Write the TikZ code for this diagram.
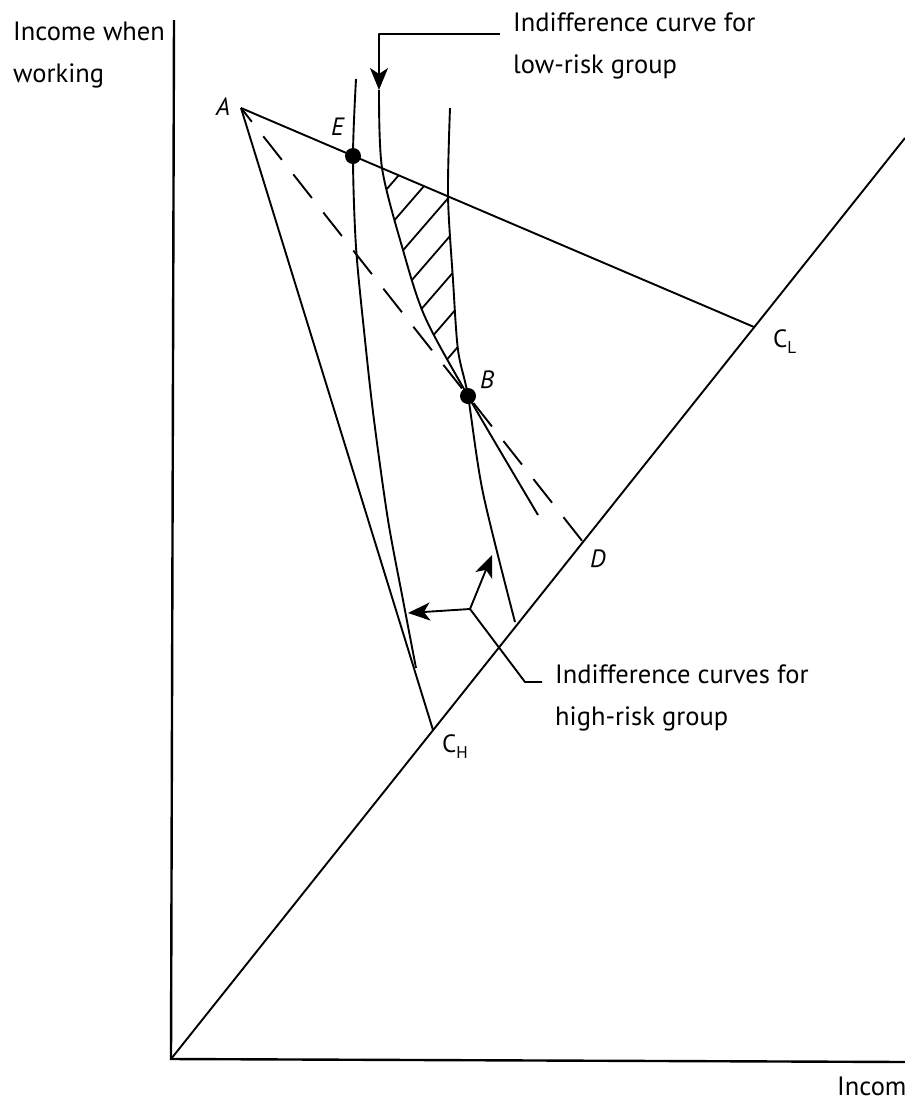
\documentclass[tikz,border=0pt]{standalone}
\usepackage{fontspec}
\setmainfont{PT Sans}
\usetikzlibrary{arrows.meta}
\begin{document}
\begin{tikzpicture}[x=1pt,y=-1pt,
  ln/.style={line width=1.9pt, line join=round},
  ax/.style={line width=2.4pt},
  dsh/.style={line width=1.9pt, dash pattern=on 30pt off 18.5pt, dash phase=12.5pt},
  lab/.style={font=\fontsize{25}{25}\selectfont\itshape, inner sep=0pt, anchor=base west},
  clab/.style={font=\fontsize{25}{25}\selectfont, inner sep=0pt, anchor=base west},
  txt/.style={font=\fontsize{26.5}{42}\selectfont, inner sep=0pt, anchor=north west, align=left},
  tip/.style={-{Stealth[length=22pt,width=18pt,inset=6pt]}},
  dot/.style={circle, fill=black, minimum size=16pt, inner sep=0pt}]
\useasboundingbox (0,0) rectangle (905,1104);
\clip (0,0) rectangle (905,1104);

% key points
\coordinate (O) at (171,1059);
\coordinate (Ytop) at (174,20);
\coordinate (Xend) at (905,1062);
\coordinate (Tend) at (905,138);
\coordinate (A) at (241,108);
\coordinate (CL) at (754,327);
\coordinate (CH) at (433,730);
\coordinate (D) at (583,542);
\coordinate (J) at (470,609);

% axes and certainty line
\draw[ax] (Ytop) -- (O) -- (Xend);
\draw[ln] (O) -- (Tend);

% budget lines
\draw[ln] (A) -- (CL);
\draw[ln] (A) -- (CH);
\draw[dsh] (A) -- (D);

% hatched region
\begin{scope}
\clip plot[smooth] coordinates {(382,168) (403,250) (425,317) (468,396)}
  -- plot[smooth] coordinates {(468,396) (458,350) (453,280) (448,196)} -- cycle;
\foreach \k in {0,...,6}
  \draw[line width=1.8pt] (350,{116+40*\k+115.6}) -- ++(200,-231.2);
\end{scope}

% indifference curves
\draw[ln] plot[smooth] coordinates {(356,79) (353,156) (356,247) (365,340) (374,420) (388,520) (403,600) (416,668)};
\draw[ln] plot[smooth] coordinates {(379,90) (382,168) (403,250) (425,317) (468,396) (538,515)};
\draw[ln] plot[smooth] coordinates {(450,108) (448,196) (453,280) (458,350) (468,396) (483,493) (515,622)};

% dots
\node[dot] (E) at (353,156) {};
\node[dot] (B) at (468,396) {};

% labels
\node[lab] (Alab) at (216,115) {A};
\node[lab] (Elab) at (331,135) {E};
\node[lab] (Blab) at (480,388) {B};
\node[lab] (Dlab) at (590,567) {D};
\node[clab] (CLlab) at (773,347) {C\raisebox{-6pt}{\fontsize{17}{17}\selectfont L}};
\node[clab] (CHlab) at (442,752) {C\raisebox{-6pt}{\fontsize{17}{17}\selectfont H}};

% texts
\node[txt] (ylab) at (13,22) {Income when\\working};
\node[txt] (lowtxt) at (513,13) {Indifference curve for\\low-risk group};
\node[txt] (hightxt) at (555,665) {Indifference curves for\\high-risk group};
\node[txt] (xlab) at (837,1077) {Income};

% low-risk pointer
\coordinate (lk) at (500,34);
\coordinate (lc) at (379,34);
\coordinate (lt) at (379,90);
\draw[ln,tip] (lk) -- (lc) -- (lt);

% high-risk pointers
\coordinate (hl) at (408,613);
\coordinate (hu) at (492,555);
\coordinate (hk) at (525,682);
\coordinate (he) at (542,682);
\draw[ln,tip] (J) -- (hl);
\draw[ln,tip] (J) -- (hu);
\draw[ln] (J) -- (hk) -- (he);
\end{tikzpicture}
\end{document}
